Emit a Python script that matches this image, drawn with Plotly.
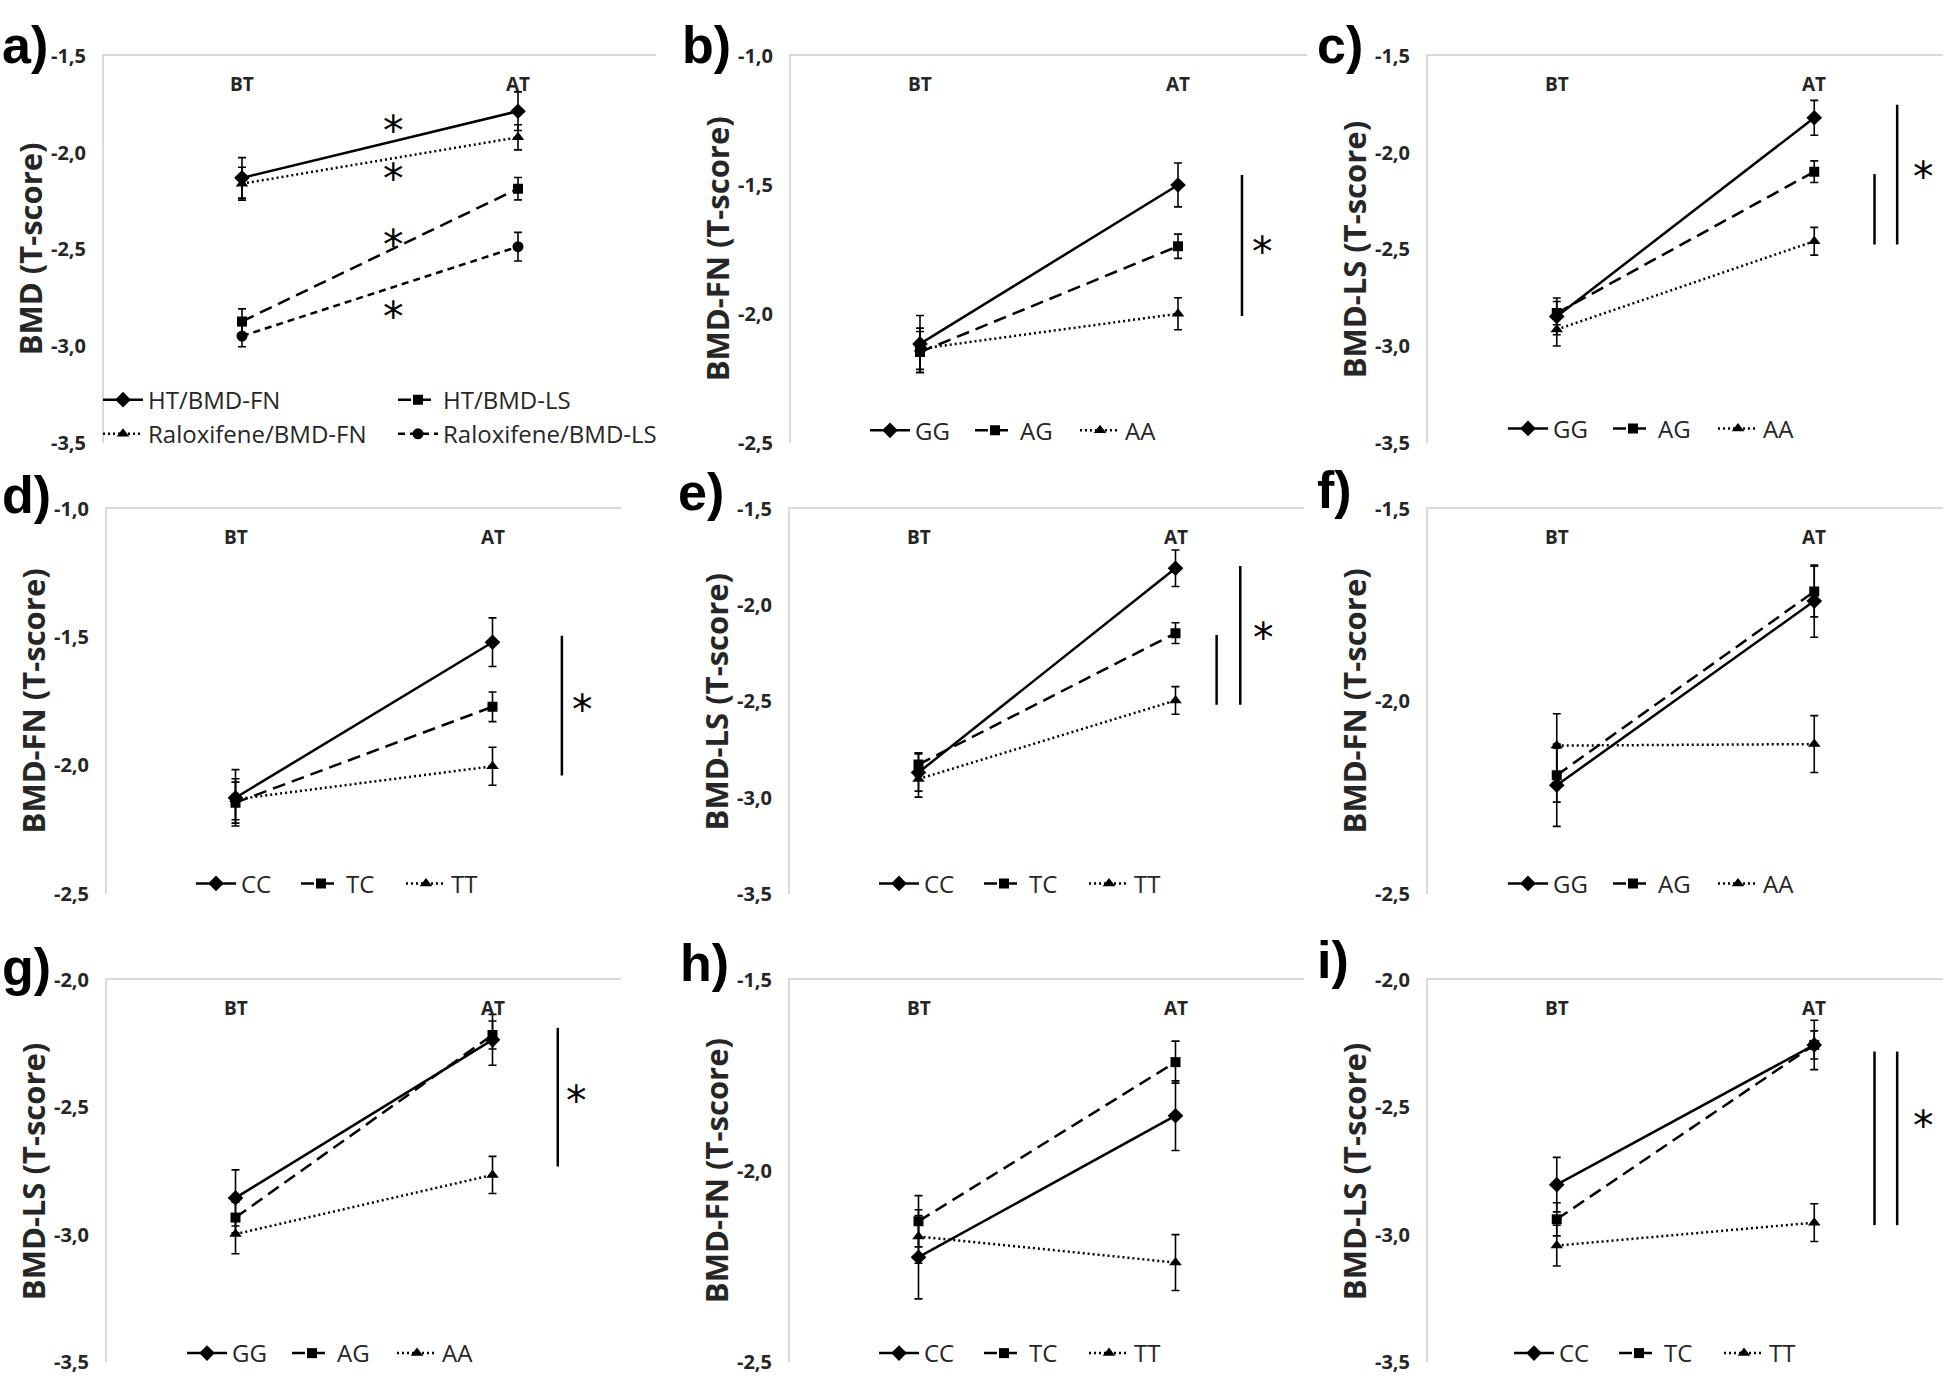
import plotly.graph_objects as go

W, H = 1946, 1393
categories = ["BT", "AT"]

# ---------------- data (T-scores) ----------------
# panel a
a_names = ["HT/BMD-FN", "Raloxifene/BMD-FN", "HT/BMD-LS", "Raloxifene/BMD-LS"]
a_ht_fn = [-2.13, -1.785]
a_ht_fn_err = [0.105, 0.10]
a_ral_fn = [-2.16, -1.92]
a_ral_fn_err = [0.085, 0.065]
a_ht_ls = [-2.873, -2.186]
a_ht_ls_err = [0.065, 0.058]
a_ral_ls = [-2.949, -2.486]
a_ral_ls_err = [0.055, 0.074]

# panel b (BMD-FN, GG/AG/AA)
b_names = ["GG", "AG", "AA"]
b_gg = [-2.117, -1.50]; b_gg_err = [0.11, 0.085]
b_ag = [-2.149, -1.738]; b_ag_err = [0.08, 0.047]
b_aa = [-2.136, -2.00]; b_aa_err = [0.08, 0.062]

# panel c (BMD-LS, GG/AG/AA)
c_names = ["GG", "AG", "AA"]
c_gg = [-2.847, -1.819]; c_gg_err = [0.095, 0.09]
c_ag = [-2.83, -2.098]; c_ag_err = [0.06, 0.056]
c_aa = [-2.915, -2.458]; c_aa_err = [0.085, 0.072]

# panel d (BMD-FN, CC/TC/TT)
d_names = ["CC", "TC", "TT"]
d_cc = [-2.126, -1.519]; d_cc_err = [0.11, 0.095]
d_tc = [-2.145, -1.771]; d_tc_err = [0.08, 0.058]
d_tt = [-2.132, -2.003]; d_tt_err = [0.08, 0.074]

# panel e (BMD-LS, CC/TC/TT)
e_names = ["CC", "TC", "TT"]
e_cc = [-2.87, -1.807]; e_cc_err = [0.097, 0.095]
e_tc = [-2.828, -2.145]; e_tc_err = [0.06, 0.054]
e_tt = [-2.904, -2.495]; e_tt_err = [0.094, 0.072]

# panel f (BMD-FN, GG/AG/AA)
f_names = ["GG", "AG", "AA"]
f_gg = [-2.218, -1.739]; f_gg_err = [0.107, 0.094]
f_ag = [-2.192, -1.714]; f_ag_err = [0.07, 0.066]
f_aa = [-2.115, -2.111]; f_aa_err = [0.083, 0.074]

# panel g (BMD-LS, GG/AG/AA)
g_names = ["GG", "AG", "AA"]
g_gg = [-2.855, -2.235]; g_gg_err = [0.11, 0.10]
g_ag = [-2.932, -2.216]; g_ag_err = [0.06, 0.055]
g_aa = [-2.997, -2.765]; g_aa_err = [0.077, 0.073]

# panel h (BMD-FN, CC/TC/TT)
h_names = ["CC", "TC", "TT"]
h_cc = [-2.225, -1.855]; h_cc_err = [0.109, 0.091]
h_tc = [-2.131, -1.715]; h_tc_err = [0.067, 0.055]
h_tt = [-2.171, -2.239]; h_tt_err = [0.07, 0.073]

# panel i (BMD-LS, CC/TC/TT)
i_names = ["CC", "TC", "TT"]
i_cc = [-2.803, -2.255]; i_cc_err = [0.107, 0.097]
i_tc = [-2.939, -2.255]; i_tc_err = [0.065, 0.055]
i_tt = [-3.042, -2.952]; i_tt_err = [0.08, 0.074]

# y-axis ranges (bottom, top)
y_ranges = {"a": (-3.5, -1.5), "b": (-2.5, -1.0), "c": (-3.5, -1.5),
            "d": (-2.5, -1.0), "e": (-3.5, -1.5), "f": (-2.5, -1.5),
            "g": (-3.5, -2.0), "h": (-2.5, -1.5), "i": (-3.5, -2.0)}
y_titles = {"a": "BMD (T-score)", "b": "BMD-FN (T-score)", "c": "BMD-LS (T-score)",
            "d": "BMD-FN (T-score)", "e": "BMD-LS (T-score)", "f": "BMD-FN (T-score)",
            "g": "BMD-LS (T-score)", "h": "BMD-FN (T-score)", "i": "BMD-LS (T-score)"}

# significance bars: (x in axis-domain fraction, y from, y to) and asterisks (x domain, y)
sig_bars = {"b": [(0.874, -1.461, -2.009)],
            "c": [(0.867, -2.11, -2.475), (0.911, -1.751, -2.475)],
            "d": [(0.885, -1.494, -2.039)],
            "e": [(0.83, -2.154, -2.517), (0.876, -1.795, -2.517)],
            "g": [(0.877, -2.188, -2.732)],
            "i": [(0.867, -2.281, -2.962), (0.911, -2.281, -2.962)]}
stars = {"a": [(0.525, -1.838), (0.525, -2.085), (0.525, -2.424), (0.525, -2.797)],
         "b": [(0.913, -1.721)], "c": [(0.962, -2.076)], "d": [(0.926, -1.745)],
         "e": [(0.922, -2.12)], "g": [(0.914, -2.435)], "i": [(0.962, -2.532)]}

# ---------------- layout geometry (pixels) ----------------
col_px = {"a": (104, 656), "b": (791, 1307), "c": (1428, 1943),
          "d": (107, 621), "e": (790, 1304), "f": (1428, 1943),
          "g": (107, 621), "h": (790, 1304), "i": (1428, 1943)}
row_px = {"a": (43, 437), "b": (43, 437), "c": (43, 437),
          "d": (505, 897), "e": (505, 897), "f": (505, 897),
          "g": (985, 1375), "h": (985, 1375), "i": (985, 1375)}
# panel letters: (left x, centre y); None centre y = pinned to the top edge
letter_px = {"a": (0, None), "b": (680, None), "c": (1315, None),
             "d": (0, 490), "e": (676, 487), "f": (1315, 485),
             "g": (0, 972), "h": (678, 968), "i": (1315, 965)}
legend_px = {"a1": (98, 411), "a2": (393, 411), "b": (865, 425), "c": (1503, 423),
             "d": (191, 887), "e": (874, 887), "f": (1503, 887),
             "g": (182, 1366), "h": (874, 1366), "i": (1509, 1366)}

STY = {
    "solid": dict(dash="solid", symbol="diamond", size=12),
    "dash": dict(dash="13px,7px", symbol="square", size=10),
    "dot": dict(dash="2px,3px", symbol="triangle-up", size=11),
    "dash2": dict(dash="7px,5px", symbol="circle", size=11),
}

panels = [
    ("a", [(a_names[0], a_ht_fn, a_ht_fn_err, "solid", "a1"),
           (a_names[1], a_ral_fn, a_ral_fn_err, "dot", "a1"),
           (a_names[2], a_ht_ls, a_ht_ls_err, "dash", "a2"),
           (a_names[3], a_ral_ls, a_ral_ls_err, "dash2", "a2")]),
    ("b", [(b_names[0], b_gg, b_gg_err, "solid", "b"), (b_names[1], b_ag, b_ag_err, "dash", "b"),
           (b_names[2], b_aa, b_aa_err, "dot", "b")]),
    ("c", [(c_names[0], c_gg, c_gg_err, "solid", "c"), (c_names[1], c_ag, c_ag_err, "dash", "c"),
           (c_names[2], c_aa, c_aa_err, "dot", "c")]),
    ("d", [(d_names[0], d_cc, d_cc_err, "solid", "d"), (d_names[1], d_tc, d_tc_err, "dash", "d"),
           (d_names[2], d_tt, d_tt_err, "dot", "d")]),
    ("e", [(e_names[0], e_cc, e_cc_err, "solid", "e"), (e_names[1], e_tc, e_tc_err, "dash", "e"),
           (e_names[2], e_tt, e_tt_err, "dot", "e")]),
    ("f", [(f_names[0], f_gg, f_gg_err, "solid", "f"), (f_names[1], f_ag, f_ag_err, "dash", "f"),
           (f_names[2], f_aa, f_aa_err, "dot", "f")]),
    ("g", [(g_names[0], g_gg, g_gg_err, "solid", "g"), (g_names[1], g_ag, g_ag_err, "dash", "g"),
           (g_names[2], g_aa, g_aa_err, "dot", "g")]),
    ("h", [(h_names[0], h_cc, h_cc_err, "solid", "h"), (h_names[1], h_tc, h_tc_err, "dash", "h"),
           (h_names[2], h_tt, h_tt_err, "dot", "h")]),
    ("i", [(i_names[0], i_cc, i_cc_err, "solid", "i"), (i_names[1], i_tc, i_tc_err, "dash", "i"),
           (i_names[2], i_tt, i_tt_err, "dot", "i")]),
]

legend_ids = ["a1", "a2", "b", "c", "d", "e", "f", "g", "h", "i"]
legend_key = {lid: ("legend" if n == 0 else f"legend{n + 1}") for n, lid in enumerate(legend_ids)}

FONT = "Open Sans"
TXT = "#262626"
AX = "#d9d9d9"

fig = go.Figure()
layout = dict(width=W, height=H, margin=dict(l=0, r=0, t=0, b=0),
              paper_bgcolor="white", plot_bgcolor="white", showlegend=True,
              font=dict(family=FONT, color=TXT))
annotations = []
shapes = []


def fmt(v):
    return f"{v:.1f}".replace(".", ",")


for k, (pid, series) in enumerate(panels, start=1):
    sx = "" if k == 1 else str(k)
    xa, ya = "x" + sx, "y" + sx
    x0, x1 = col_px[pid]
    y0, y1 = row_px[pid]
    lo, hi = y_ranges[pid]
    tv = []
    v = hi
    while v >= lo - 1e-9:
        tv.append(round(v, 2))
        v -= 0.5
    layout["xaxis" + sx] = dict(domain=[x0 / W, x1 / W], anchor=ya, type="category",
                                categoryorder="array", categoryarray=categories,
                                range=[-0.5, 1.5], side="top", showline=True, linecolor=AX,
                                linewidth=2, showticklabels=False, ticks="", showgrid=False,
                                zeroline=False, fixedrange=True)
    layout["yaxis" + sx] = dict(domain=[1 - y1 / H, 1 - y0 / H], anchor=xa, range=[lo, hi],
                                tickvals=tv, ticktext=[fmt(t) for t in tv], showline=True,
                                linecolor=AX, linewidth=2, ticks="outside", ticklen=12,
                                tickcolor="rgba(0,0,0,0)", showgrid=False, zeroline=False,
                                tickfont=dict(family=FONT, size=20, color=TXT, weight="bold"),
                                fixedrange=True)
    for j, (name, vals, errs, sty, lid) in enumerate(series):
        s = STY[sty]
        fig.add_trace(go.Scatter(
            x=categories, y=vals, name=name, mode="lines+markers",
            xaxis=xa, yaxis=ya, legend=legend_key[lid], legendgroup=f"{pid}{j}",
            line=dict(color="black", width=2.5, dash=s["dash"]),
            marker=dict(symbol=s["symbol"], size=s["size"], color="black"),
            error_y=dict(type="data", array=errs, visible=True, color="black",
                         thickness=1.6, width=4),
        ))
    # panel letter
    lx, ly = letter_px[pid]
    if ly is None:
        ypos, yanc = 1.0, "top"
    else:
        ypos, yanc = 1 - ly / H, "middle"
    annotations.append(dict(text=f"<b>{pid})</b>", xref="paper", yref="paper", x=lx / W,
                            y=ypos, xanchor="left", yanchor=yanc, showarrow=False,
                            font=dict(family="Liberation Sans", size=52, color="black")))
    # y title
    annotations.append(dict(text=f"<b>{y_titles[pid]}</b>", xref=xa + " domain",
                            yref=ya + " domain", x=0, y=0.5, xshift=-74, textangle=-90,
                            xanchor="center", yanchor="middle", showarrow=False,
                            font=dict(family=FONT, size=31, color=TXT)))
    # category labels inside top
    for c in categories:
        annotations.append(dict(text=f"<b>{c}</b>", xref=xa, yref=ya + " domain", x=c, y=1,
                                yshift=-28, xanchor="center", yanchor="middle",
                                showarrow=False, font=dict(family=FONT, size=19, color=TXT)))
    for (xd, ya0, ya1) in sig_bars.get(pid, []):
        shapes.append(dict(type="line", xref=xa + " domain", yref=ya, x0=xd, x1=xd,
                           y0=ya0, y1=ya1, line=dict(color="black", width=2.5)))
    for (xd, yv) in stars.get(pid, []):
        annotations.append(dict(text="*", xref=xa + " domain", yref=ya, x=xd, y=yv,
                                yshift=-10, xanchor="center", yanchor="middle",
                                showarrow=False,
                                font=dict(family="DejaVu Sans", size=41, color="black")))

for lid in legend_ids:
    px_, py_ = legend_px[lid]
    horiz = lid not in ("a1", "a2")
    leg = dict(
        x=px_ / W, y=1 - py_ / H, xref="paper", yref="paper", xanchor="left",
        yanchor="middle", orientation="h" if horiz else "v",
        font=dict(family=FONT, size=24, color=TXT), bgcolor="rgba(0,0,0,0)",
        itemwidth=40, tracegroupgap=4, traceorder="normal", borderwidth=0,
        itemclick=False, itemdoubleclick=False)
    if horiz:
        leg.update(entrywidth=50, entrywidthmode="pixels")
    layout[legend_key[lid]] = leg

layout["annotations"] = annotations
layout["shapes"] = shapes
fig.update_layout(**layout)

fig.write_html("out.html", config={"displayModeBar": False},
               post_script="document.body.style.margin='0';")
